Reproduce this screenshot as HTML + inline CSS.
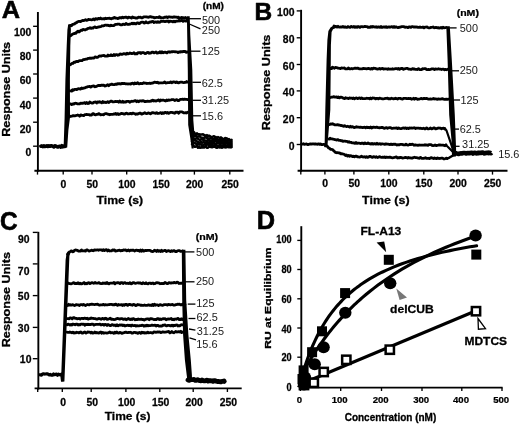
<!DOCTYPE html>
<html><head><meta charset="utf-8"><style>
html,body{margin:0;padding:0;background:#fff;}
svg{display:block;font-family:"Liberation Sans", sans-serif;filter:grayscale(1) blur(0.3px);}
</style></head><body>
<svg width="520" height="426" viewBox="0 0 520 426">
<rect width="520" height="426" fill="#fff"/>
<text transform="translate(1.67,18.3) scale(1.0359,1)" font-size="24.493" font-weight="bold" fill="#000" stroke="#000" stroke-width="0.58" stroke-linejoin="round">A</text>
<line x1="37.9" y1="12" x2="37.9" y2="171.7" stroke="#000" stroke-width="1.9"/>
<line x1="34.4" y1="170.8" x2="243.5" y2="170.8" stroke="#000" stroke-width="1.9"/>
<line x1="33.1" y1="26.3" x2="37.5" y2="26.3" stroke="#000" stroke-width="1.35"/>
<text transform="translate(14,36) scale(1.0400,1)" font-size="10.000" font-weight="bold" fill="#000" stroke="#000" stroke-width="0.25" stroke-linejoin="round">100</text>
<line x1="33.1" y1="50.1" x2="37.5" y2="50.1" stroke="#000" stroke-width="1.35"/>
<text transform="translate(19.77,60.4) scale(1.0400,1)" font-size="10.000" font-weight="bold" fill="#000" stroke="#000" stroke-width="0.25" stroke-linejoin="round">80</text>
<line x1="33.1" y1="74" x2="37.5" y2="74" stroke="#000" stroke-width="1.35"/>
<text transform="translate(19.77,84.2) scale(1.0400,1)" font-size="10.000" font-weight="bold" fill="#000" stroke="#000" stroke-width="0.25" stroke-linejoin="round">60</text>
<line x1="33.1" y1="98.1" x2="37.5" y2="98.1" stroke="#000" stroke-width="1.35"/>
<text transform="translate(19.77,108.5) scale(1.0400,1)" font-size="10.000" font-weight="bold" fill="#000" stroke="#000" stroke-width="0.25" stroke-linejoin="round">40</text>
<line x1="33.1" y1="122.2" x2="37.5" y2="122.2" stroke="#000" stroke-width="1.35"/>
<text transform="translate(19.77,132.5) scale(1.0400,1)" font-size="10.000" font-weight="bold" fill="#000" stroke="#000" stroke-width="0.25" stroke-linejoin="round">20</text>
<line x1="33.1" y1="146.2" x2="37.5" y2="146.2" stroke="#000" stroke-width="1.35"/>
<text transform="translate(25.54,156.1) scale(1.0400,1)" font-size="10.000" font-weight="bold" fill="#000" stroke="#000" stroke-width="0.25" stroke-linejoin="round">0</text>
<line x1="37.5" y1="170.5" x2="37.5" y2="174.6" stroke="#000" stroke-width="1.35"/>
<line x1="63.2" y1="170.5" x2="63.2" y2="174.6" stroke="#000" stroke-width="1.35"/>
<text transform="translate(60.61,187.8) scale(1.0400,1)" font-size="10.000" font-weight="bold" fill="#000" stroke="#000" stroke-width="0.25" stroke-linejoin="round">0</text>
<line x1="92" y1="170.5" x2="92" y2="174.6" stroke="#000" stroke-width="1.35"/>
<text transform="translate(86.58,187.8) scale(1.0400,1)" font-size="10.000" font-weight="bold" fill="#000" stroke="#000" stroke-width="0.25" stroke-linejoin="round">50</text>
<line x1="126.7" y1="170.5" x2="126.7" y2="174.6" stroke="#000" stroke-width="1.35"/>
<text transform="translate(118.21,187.8) scale(1.0400,1)" font-size="10.000" font-weight="bold" fill="#000" stroke="#000" stroke-width="0.25" stroke-linejoin="round">100</text>
<line x1="161" y1="170.5" x2="161" y2="174.6" stroke="#000" stroke-width="1.35"/>
<text transform="translate(152.51,187.8) scale(1.0400,1)" font-size="10.000" font-weight="bold" fill="#000" stroke="#000" stroke-width="0.25" stroke-linejoin="round">150</text>
<line x1="194.4" y1="170.5" x2="194.4" y2="174.6" stroke="#000" stroke-width="1.35"/>
<text transform="translate(186.07,187.8) scale(1.0400,1)" font-size="10.000" font-weight="bold" fill="#000" stroke="#000" stroke-width="0.25" stroke-linejoin="round">200</text>
<line x1="229.8" y1="170.5" x2="229.8" y2="174.6" stroke="#000" stroke-width="1.35"/>
<text transform="translate(221.47,187.8) scale(1.0400,1)" font-size="10.000" font-weight="bold" fill="#000" stroke="#000" stroke-width="0.25" stroke-linejoin="round">250</text>
<text transform="translate(96.48,204.4) scale(1.1252,1)" font-size="10.897" font-weight="bold" fill="#000" stroke="#000" stroke-width="0.27" stroke-linejoin="round">Time (s)</text>
<text transform="translate(10,136.82) rotate(-90) scale(1.1985,1)" font-size="10.483" font-weight="bold" fill="#000" stroke="#000" stroke-width="0.3" stroke-linejoin="round">Response Units</text>
<text transform="translate(202.7,8.9) scale(1.1614,1)" font-size="8.696" font-weight="bold" fill="#000" stroke="#000" stroke-width="0.26" stroke-linejoin="round">(nM)</text>
<polyline points="40.8,146.15 41.8,145.91 42.8,146.61 43.8,145.8 44.8,146.45 45.8,146.21 46.8,145.78 47.8,146.41 48.8,145.75 49.8,146.31 50.8,145.8 51.8,145.83 52.8,146.29 53.8,146.86 54.8,145.87 55.8,146.01 56.8,146.58 57.8,147.03 58.8,146.51 59.8,146.26 60.8,147.07 61.8,145.77 62.8,146.9 63.8,146.11 64.8,145.9 65,146.4" fill="none" stroke="#000" stroke-width="3.6" stroke-linecap="round" stroke-linejoin="round"/>
<polygon points="63.6,147.6 64.6,118 65.4,80 66.7,46 67.4,30 68.2,24.4 70.6,24.8 70.9,30 70.3,46 69.9,80 70,117.5 68.4,130 67.2,147.6" fill="#000" />
<polyline points="69.5,25.56 70.5,25.43 71.5,25.74 72.5,24.32 73.5,24.35 74.5,23.89 75.5,22.99 76.5,22.8 77.5,21.8 78.5,21.46 79.5,21.34 80.5,21.67 81.5,20.99 82.5,20.5 83.5,20.6 84.5,20.18 85.5,19.74 86.5,20.27 87.5,20.05 88.5,19.33 89.5,19.7 90.5,19.55 91.5,19.95 92.5,19.66 93.5,18.96 94.5,19.84 95.5,18.55 96.5,18.89 97.5,19.27 98.5,18.34 99.5,18.73 100.5,18.03 101.5,18.86 102.5,18.95 103.5,18.63 104.5,19 105.5,18.16 106.5,18.65 107.5,18.46 108.5,18.39 109.5,18.16 110.5,18.65 111.5,18.75 112.5,18.04 113.5,18.25 114.5,17.36 115.5,18.21 116.5,18.1 117.5,18.57 118.5,18.31 119.5,17.55 120.5,17.68 121.5,18.06 122.5,17.14 123.5,17.74 124.5,17.31 125.5,17.23 126.5,17.13 127.5,18.11 128.5,17.2 129.5,17.35 130.5,17.53 131.5,18.17 132.5,17.03 133.5,17.52 134.5,17.63 135.5,18.06 136.5,17.94 137.5,17.98 138.5,17.12 139.5,17.28 140.5,17.17 141.5,17.88 142.5,17.95 143.5,16.79 144.5,16.79 145.5,16.84 146.5,16.83 147.5,17.19 148.5,17.34 149.5,16.89 150.5,16.54 151.5,17.13 152.5,17.06 153.5,17.35 154.5,17.9 155.5,17.53 156.5,17.3 157.5,17.45 158.5,17.54 159.5,16.67 160.5,17.87 161.5,17.73 162.5,17.89 163.5,17.8 164.5,17.26 165.5,17.3 166.5,16.91 167.5,17.68 168.5,16.9 169.5,16.93 170.5,17.15 171.5,17.11 172.5,17.39 173.5,17.01 174.5,16.96 175.5,17.2 176.5,17.16 177.5,17.56 178.5,17.12 179.5,18.35 180.5,18.02 181.5,17.4 182.5,17.58 183.5,17.75 184.5,17.81 185.5,17.5 186.5,18.55 187.5,18.79" fill="none" stroke="#000" stroke-width="2.8" stroke-linecap="round" stroke-linejoin="round"/>
<polyline points="70,35.85 71,35.48 72,34.45 73,33.94 74,33.73 75,33.09 76,33.34 77,31.86 78,31.13 79,32.08 80,31.13 81,30.24 82,30.44 83,29.36 84,29.71 85,29.98 86,29.53 87,29.1 88,28.3 89,28.25 90,27.78 91,28.43 92,27.9 93,28.05 94,27.23 95,26.88 96,27.51 97,27.56 98,27.18 99,26.92 100,26.75 101,26.54 102,25.72 103,26.02 104,25.7 105,25.14 106,25.04 107,25.29 108,25.16 109,25.67 110,25.94 111,25.13 112,25.71 113,25.68 114,25.54 115,24.61 116,24.31 117,24.25 118,24.15 119,24.09 120,24.62 121,24.94 122,24.79 123,24.22 124,24.4 125,24.54 126,23.48 127,24.22 128,24.5 129,24.26 130,24.15 131,23.68 132,23.16 133,23.92 134,23.19 135,23.75 136,23.9 137,23 138,22.91 139,23.58 140,23.18 141,22.31 142,22.15 143,22.09 144,23.05 145,22.82 146,21.8 147,22.71 148,22.89 149,22.39 150,21.92 151,22.15 152,21.53 153,21.32 154,22.62 155,22.12 156,21.91 157,22.44 158,21.69 159,22.26 160,22.16 161,21.26 162,21.29 163,21.32 164,21.21 165,21.66 166,21.18 167,21.37 168,20.93 169,21.99 170,21.18 171,21.3 172,21.44 173,21.86 174,21.15 175,21.82 176,21.2 177,21.21 178,21.16 179,20.42 180,20.98 181,20.58 182,20.3 183,21.38 184,20.46 185,20.85 186,21.17 187,20.9 187.5,20.8" fill="none" stroke="#000" stroke-width="2.8" stroke-linecap="round" stroke-linejoin="round"/>
<polyline points="70,64.86 71,64.23 72,63.38 73,63.36 74,62.07 75,62.37 76,61.6 77,61.3 78,61.66 79,60.95 80,60.69 81,60.7 82,60.66 83,59.74 84,59.72 85,59.31 86,59.06 87,59.05 88,58.45 89,58.31 90,57.97 91,58.46 92,57.96 93,58.05 94,57.98 95,56.86 96,57.12 97,57.5 98,57.2 99,56.05 100,55.87 101,56.21 102,55.59 103,55.72 104,55.38 105,56.1 106,56.16 107,56.21 108,55.06 109,55.74 110,55.56 111,54.73 112,55.66 113,55.67 114,54.51 115,55.43 116,54.58 117,54.63 118,55.26 119,54.97 120,53.95 121,54.25 122,54.3 123,53.97 124,53.7 125,53.8 126,54.29 127,53.23 128,53.9 129,53.67 130,53 131,53.36 132,53.7 133,53.47 134,52.77 135,53.98 136,53.67 137,53.89 138,52.64 139,52.83 140,52.48 141,53.47 142,52.73 143,52.49 144,52.87 145,53.52 146,53.35 147,52.53 148,52.34 149,53.38 150,52.86 151,53 152,52.11 153,52.03 154,52.88 155,52.48 156,51.95 157,53.12 158,52.66 159,52.86 160,51.82 161,52.88 162,51.76 163,52.86 164,52.28 165,52.1 166,52.39 167,52.9 168,51.96 169,51.75 170,52.29 171,51.87 172,51.68 173,51.74 174,51.57 175,51.76 176,51.9 177,51.88 178,52.5 179,51.83 180,52.11 181,51.64 182,51.87 183,51.39 184,51.7 185,51.36 186,52.35 187,52.08 187.5,52" fill="none" stroke="#000" stroke-width="2.8" stroke-linecap="round" stroke-linejoin="round"/>
<polyline points="69.7,90.87 70.7,90.89 71.7,91.16 72.7,89.63 73.7,90.26 74.7,89.47 75.7,89.35 76.7,89.63 77.7,88.81 78.7,88.77 79.7,88.82 80.7,89.06 81.7,88.01 82.7,88.53 83.7,88.2 84.7,87.94 85.7,87.45 86.7,87.21 87.7,86.64 88.7,86.59 89.7,86.35 90.7,87.15 91.7,86.35 92.7,86.09 93.7,85.86 94.7,86.79 95.7,86.71 96.7,86.3 97.7,85.63 98.7,85.48 99.7,85.47 100.7,85.62 101.7,85.12 102.7,85.44 103.7,85.1 104.7,85.99 105.7,85.93 106.7,85.25 107.7,84.74 108.7,85.67 109.7,84.67 110.7,84.65 111.7,84.07 112.7,84.52 113.7,84.57 114.7,84.53 115.7,84.03 116.7,84.39 117.7,83.63 118.7,83.92 119.7,83.61 120.7,83.98 121.7,83.41 122.7,83.32 123.7,83.65 124.7,83.48 125.7,83.91 126.7,83.76 127.7,84 128.7,83.81 129.7,83.82 130.7,84.01 131.7,83.3 132.7,83.18 133.7,84.08 134.7,82.88 135.7,83.66 136.7,83.52 137.7,82.66 138.7,83.74 139.7,83.79 140.7,83.39 141.7,83.52 142.7,83.6 143.7,82.63 144.7,83.14 145.7,83.09 146.7,83.52 147.7,83.45 148.7,83.46 149.7,83.09 150.7,83.5 151.7,83.18 152.7,83.17 153.7,82.49 154.7,82.18 155.7,82.3 156.7,82.59 157.7,82.21 158.7,83.2 159.7,82.79 160.7,82.86 161.7,82.84 162.7,82.89 163.7,82.6 164.7,81.9 165.7,82.99 166.7,82.9 167.7,82.54 168.7,82.56 169.7,82.71 170.7,81.86 171.7,82.78 172.7,82.08 173.7,81.81 174.7,82.05 175.7,82.68 176.7,81.92 177.7,82.65 178.7,82.96 179.7,82.26 180.7,82.08 181.7,82.2 182.7,82.46 183.7,82.56 184.7,82.32 185.7,82.34 186.7,81.53 187.5,82.1" fill="none" stroke="#000" stroke-width="2.8" stroke-linecap="round" stroke-linejoin="round"/>
<polyline points="69.7,103.91 70.7,103.97 71.7,104.57 72.7,103.86 73.7,104.15 74.7,103.28 75.7,103.26 76.7,103.46 77.7,103.94 78.7,103.88 79.7,103.77 80.7,103.15 81.7,103.39 82.7,103.23 83.7,103.16 84.7,102.59 85.7,103.6 86.7,102.54 87.7,103.55 88.7,103.41 89.7,102.05 90.7,102.6 91.7,103.04 92.7,103.19 93.7,102.4 94.7,102.08 95.7,101.94 96.7,102.91 97.7,101.81 98.7,102.3 99.7,101.66 100.7,102.17 101.7,102.75 102.7,101.58 103.7,102.52 104.7,102.07 105.7,102.57 106.7,102.29 107.7,101.61 108.7,102.52 109.7,101.92 110.7,101.26 111.7,101.21 112.7,101.87 113.7,101.79 114.7,101.56 115.7,101.31 116.7,101.57 117.7,101.51 118.7,102.22 119.7,101.03 120.7,102.05 121.7,102.16 122.7,101.13 123.7,102.23 124.7,101.91 125.7,102.16 126.7,101.28 127.7,101.37 128.7,101.38 129.7,102.2 130.7,101.6 131.7,101.25 132.7,101.31 133.7,101.06 134.7,100.71 135.7,100.75 136.7,101.75 137.7,100.94 138.7,101.82 139.7,100.83 140.7,100.82 141.7,101.13 142.7,100.64 143.7,100.87 144.7,101.65 145.7,101.51 146.7,101.38 147.7,101.09 148.7,101.46 149.7,101.46 150.7,100.88 151.7,101.08 152.7,100.11 153.7,101.04 154.7,100.61 155.7,101 156.7,100.81 157.7,100.28 158.7,99.91 159.7,101.11 160.7,99.96 161.7,100.41 162.7,100.19 163.7,100.1 164.7,100.68 165.7,100.98 166.7,99.94 167.7,100.47 168.7,99.94 169.7,100.26 170.7,100 171.7,99.65 172.7,99.61 173.7,99.64 174.7,100.59 175.7,99.98 176.7,99.56 177.7,100.49 178.7,100.58 179.7,99.79 180.7,99.32 181.7,99.36 182.7,99.18 183.7,99.5 184.7,99.12 185.7,99.29 186.7,99.29 187.5,99.6" fill="none" stroke="#000" stroke-width="2.8" stroke-linecap="round" stroke-linejoin="round"/>
<polyline points="69.7,116.1 70.7,116.49 71.7,116.25 72.7,115.73 73.7,115.69 74.7,115.79 75.7,115.54 76.7,115.43 77.7,115 78.7,115.25 79.7,116.17 80.7,114.91 81.7,115.33 82.7,115.41 83.7,115.64 84.7,114.63 85.7,114.61 86.7,114.48 87.7,114.59 88.7,114.55 89.7,115.17 90.7,114.97 91.7,114.98 92.7,113.76 93.7,113.75 94.7,114.68 95.7,114.91 96.7,114.3 97.7,114.43 98.7,113.59 99.7,114.12 100.7,114.86 101.7,114.7 102.7,114.72 103.7,114.87 104.7,113.84 105.7,113.63 106.7,113.68 107.7,114.18 108.7,114.39 109.7,114.74 110.7,114.41 111.7,114.29 112.7,114.44 113.7,113.99 114.7,114.11 115.7,113.38 116.7,114.4 117.7,113.62 118.7,114.56 119.7,114.16 120.7,113.67 121.7,113.41 122.7,113.57 123.7,114.09 124.7,114.16 125.7,113.32 126.7,113.25 127.7,113.87 128.7,113.94 129.7,113.65 130.7,113.39 131.7,113.9 132.7,113.04 133.7,113.42 134.7,113.62 135.7,114.29 136.7,113.82 137.7,114.13 138.7,113.53 139.7,113.17 140.7,113.16 141.7,114.13 142.7,113.75 143.7,113.17 144.7,112.74 145.7,113.38 146.7,113.6 147.7,113.22 148.7,112.96 149.7,113.51 150.7,113.84 151.7,112.84 152.7,112.54 153.7,112.94 154.7,113.03 155.7,113.37 156.7,112.67 157.7,113.48 158.7,113.37 159.7,113.01 160.7,112.57 161.7,113.61 162.7,112.67 163.7,113.35 164.7,112.5 165.7,112.46 166.7,113.19 167.7,112.52 168.7,113.41 169.7,112.75 170.7,112.29 171.7,112.31 172.7,112.56 173.7,112.88 174.7,113.25 175.7,112.11 176.7,112.43 177.7,112.15 178.7,113.19 179.7,112 180.7,111.85 181.7,111.83 182.7,112.27 183.7,112.95 184.7,112.91 185.7,112.67 186.7,113.02 187.5,112.3" fill="none" stroke="#000" stroke-width="2.8" stroke-linecap="round" stroke-linejoin="round"/>
<polygon points="186.9,16.3 189.7,16.3 190.3,35 192.3,70 193.3,120 194.2,131 193.6,148.4 191.6,148.4 190.6,140 188.2,125 187.8,70" fill="#000" />
<polyline points="192,132.29 193,131.83 194,132.1 195,133.8 196,133.99 197,133.35 198,134.53 199,134.24 200,134.4 201,134.5 202,134.41 203,134.31 204,134.92 205,135.2 206,136.34 207,135.17 208,136.69 209,135.64 210,136.05 211,136.96 212,137.13 213,136.67 214,136.23 215,137.07 216,137.08 217,138.12 218,137.13 219,137.57 220,138.59 221,137.37 222,138.15 223,138.96 224,139.05 225,138.06 226,138.22 227,138.43 228,139.97 229,139.08 230,140.03 231,140.44 231.6,139.9" fill="none" stroke="#000" stroke-width="2.5" stroke-linecap="round" stroke-linejoin="round"/>
<polyline points="192,133.94 193,134.34 194,135.93 195,135.89 196,135.82 197,137.05 198,136.55 199,136.62 200,136.32 201,137.66 202,138.06 203,137.75 204,138.38 205,137.05 206,137.52 207,138.05 208,138.96 209,139.09 210,138.32 211,138.24 212,138.67 213,138.91 214,139.74 215,138.69 216,139.82 217,139.86 218,140.13 219,140.19 220,140.06 221,139.75 222,139.88 223,140.09 224,140.9 225,139.91 226,140.24 227,141.27 228,140.6 229,140.44 230,140.53 231,141.5 231.6,141.5" fill="none" stroke="#000" stroke-width="2.5" stroke-linecap="round" stroke-linejoin="round"/>
<polyline points="192,136.52 193,138.07 194,138.41 195,139.08 196,138.42 197,138.63 198,138.76 199,139.52 200,139.97 201,139.65 202,139.42 203,139.83 204,140.26 205,140.46 206,140.69 207,140.95 208,140.77 209,140.01 210,141.27 211,140.51 212,141.05 213,140.85 214,141.55 215,140.8 216,140.98 217,141.09 218,141.05 219,142.33 220,141.95 221,141.66 222,141.88 223,142.94 224,142.28 225,141.95 226,142.98 227,142.84 228,143.49 229,142.18 230,142.88 231,143.54 231.6,143.1" fill="none" stroke="#000" stroke-width="2.5" stroke-linecap="round" stroke-linejoin="round"/>
<polyline points="192,139.94 193,140.56 194,139.66 195,140.57 196,140.79 197,141.4 198,142.73 199,142.19 200,142.82 201,142.01 202,142.88 203,142.29 204,142.06 205,142.97 206,143.32 207,142.05 208,142.91 209,143.03 210,142.46 211,142.78 212,142.5 213,142.67 214,142.83 215,143.46 216,143.63 217,142.99 218,142.76 219,143.34 220,143.98 221,143.27 222,143.55 223,143.45 224,144.48 225,144.16 226,143.46 227,143.6 228,144.15 229,144.48 230,144.7 231,143.9 231.6,144.6" fill="none" stroke="#000" stroke-width="2.5" stroke-linecap="round" stroke-linejoin="round"/>
<polyline points="192,141.46 193,142.81 194,142.86 195,143.15 196,143.69 197,145.23 198,144.24 199,144.69 200,144.4 201,144.54 202,145.3 203,145.55 204,144.59 205,144.36 206,145.26 207,144.46 208,144.19 209,145.66 210,144.94 211,145.62 212,145 213,145.81 214,145.17 215,144.74 216,144.55 217,145.45 218,145.64 219,146.11 220,144.84 221,145.74 222,145.38 223,145.63 224,145.1 225,145.37 226,145.79 227,146.48 228,145.22 229,145.87 230,146.42 231,146.72 231.6,146" fill="none" stroke="#000" stroke-width="2.5" stroke-linecap="round" stroke-linejoin="round"/>
<polyline points="192,144.12 193,144.5 194,146.31 195,146.86 196,146.57 197,146.39 198,147.78 199,146.93 200,147.76 201,147.3 202,147.63 203,146.57 204,147.58 205,146.68 206,146.97 207,147.68 208,147.66 209,146.63 210,146.69 211,146.98 212,147.17 213,146.96 214,146.55 215,146.75 216,147.51 217,147.79 218,146.43 219,147.26 220,147.58 221,146.43 222,147.71 223,146.56 224,147.34 225,147.26 226,147.39 227,146.88 228,147.06 229,147.32 230,147.08 231,147.45 231.6,147.2" fill="none" stroke="#000" stroke-width="2.5" stroke-linecap="round" stroke-linejoin="round"/>
<line x1="189" y1="18.7" x2="201" y2="18.7" stroke="#000" stroke-width="1.3"/>
<line x1="189.3" y1="24" x2="200.5" y2="28.9" stroke="#000" stroke-width="1.3"/>
<line x1="189" y1="51.2" x2="200.5" y2="51.2" stroke="#000" stroke-width="1.3"/>
<line x1="192.3" y1="82.3" x2="201" y2="82.3" stroke="#000" stroke-width="1.3"/>
<line x1="192.5" y1="100.3" x2="201" y2="100.3" stroke="#000" stroke-width="1.3"/>
<line x1="192.8" y1="115.8" x2="201" y2="115.8" stroke="#000" stroke-width="1.3"/>
<text transform="translate(201.96,23.94) scale(1.0500,1)" font-size="10.400" font-weight="normal" fill="#1a1a1a">500</text>
<text transform="translate(201.85,34.34) scale(1.0500,1)" font-size="10.400" font-weight="normal" fill="#1a1a1a">250</text>
<text transform="translate(201.58,54.94) scale(1.0500,1)" font-size="10.400" font-weight="normal" fill="#1a1a1a">125</text>
<text transform="translate(201.65,86.84) scale(1.0500,1)" font-size="10.400" font-weight="normal" fill="#1a1a1a">62.5</text>
<text transform="translate(201.76,104.24) scale(1.0500,1)" font-size="10.400" font-weight="normal" fill="#1a1a1a">31.25</text>
<text transform="translate(201.78,119.74) scale(1.0500,1)" font-size="10.400" font-weight="normal" fill="#1a1a1a">15.6</text>
<text transform="translate(254.61,19.6) scale(0.9914,1)" font-size="24.638" font-weight="bold" fill="#000" stroke="#000" stroke-width="0.61" stroke-linejoin="round">B</text>
<line x1="301.1" y1="9.8" x2="301.1" y2="171.7" stroke="#000" stroke-width="1.9"/>
<line x1="297.6" y1="170.8" x2="507.5" y2="170.8" stroke="#000" stroke-width="1.9"/>
<line x1="296.7" y1="10.9" x2="300.6" y2="10.9" stroke="#000" stroke-width="1.35"/>
<text transform="translate(277.1,15.9) scale(1.0400,1)" font-size="10.000" font-weight="bold" fill="#000" stroke="#000" stroke-width="0.25" stroke-linejoin="round">100</text>
<line x1="296.7" y1="37.8" x2="300.6" y2="37.8" stroke="#000" stroke-width="1.35"/>
<text transform="translate(282.87,42.8) scale(1.0400,1)" font-size="10.000" font-weight="bold" fill="#000" stroke="#000" stroke-width="0.25" stroke-linejoin="round">80</text>
<line x1="296.7" y1="64.5" x2="300.6" y2="64.5" stroke="#000" stroke-width="1.35"/>
<text transform="translate(282.87,69.5) scale(1.0400,1)" font-size="10.000" font-weight="bold" fill="#000" stroke="#000" stroke-width="0.25" stroke-linejoin="round">60</text>
<line x1="296.7" y1="90.9" x2="300.6" y2="90.9" stroke="#000" stroke-width="1.35"/>
<text transform="translate(282.87,95.9) scale(1.0400,1)" font-size="10.000" font-weight="bold" fill="#000" stroke="#000" stroke-width="0.25" stroke-linejoin="round">40</text>
<line x1="296.7" y1="117.7" x2="300.6" y2="117.7" stroke="#000" stroke-width="1.35"/>
<text transform="translate(282.87,122.7) scale(1.0400,1)" font-size="10.000" font-weight="bold" fill="#000" stroke="#000" stroke-width="0.25" stroke-linejoin="round">20</text>
<line x1="296.7" y1="144.5" x2="300.6" y2="144.5" stroke="#000" stroke-width="1.35"/>
<text transform="translate(288.64,149.5) scale(1.0400,1)" font-size="10.000" font-weight="bold" fill="#000" stroke="#000" stroke-width="0.25" stroke-linejoin="round">0</text>
<line x1="300.8" y1="170.5" x2="300.8" y2="174.6" stroke="#000" stroke-width="1.35"/>
<line x1="324.9" y1="170.5" x2="324.9" y2="174.6" stroke="#000" stroke-width="1.35"/>
<text transform="translate(322.21,186.8) scale(1.0400,1)" font-size="10.000" font-weight="bold" fill="#000" stroke="#000" stroke-width="0.25" stroke-linejoin="round">0</text>
<line x1="353.9" y1="170.5" x2="353.9" y2="174.6" stroke="#000" stroke-width="1.35"/>
<text transform="translate(348.38,186.8) scale(1.0400,1)" font-size="10.000" font-weight="bold" fill="#000" stroke="#000" stroke-width="0.25" stroke-linejoin="round">50</text>
<line x1="388.8" y1="170.5" x2="388.8" y2="174.6" stroke="#000" stroke-width="1.35"/>
<text transform="translate(380.21,186.8) scale(1.0400,1)" font-size="10.000" font-weight="bold" fill="#000" stroke="#000" stroke-width="0.25" stroke-linejoin="round">100</text>
<line x1="423.8" y1="170.5" x2="423.8" y2="174.6" stroke="#000" stroke-width="1.35"/>
<text transform="translate(415.21,186.8) scale(1.0400,1)" font-size="10.000" font-weight="bold" fill="#000" stroke="#000" stroke-width="0.25" stroke-linejoin="round">150</text>
<line x1="458" y1="170.5" x2="458" y2="174.6" stroke="#000" stroke-width="1.35"/>
<text transform="translate(449.57,186.8) scale(1.0400,1)" font-size="10.000" font-weight="bold" fill="#000" stroke="#000" stroke-width="0.25" stroke-linejoin="round">200</text>
<line x1="492.5" y1="170.5" x2="492.5" y2="174.6" stroke="#000" stroke-width="1.35"/>
<text transform="translate(484.07,186.8) scale(1.0400,1)" font-size="10.000" font-weight="bold" fill="#000" stroke="#000" stroke-width="0.25" stroke-linejoin="round">250</text>
<text transform="translate(362.08,203.9) scale(1.1569,1)" font-size="10.759" font-weight="bold" fill="#000" stroke="#000" stroke-width="0.26" stroke-linejoin="round">Time (s)</text>
<text transform="translate(270.1,130.22) rotate(-90) scale(1.2249,1)" font-size="10.345" font-weight="bold" fill="#000" stroke="#000" stroke-width="0.3" stroke-linejoin="round">Response Units</text>
<text transform="translate(456.67,16) scale(1.2129,1)" font-size="8.696" font-weight="bold" fill="#000" stroke="#000" stroke-width="0.25" stroke-linejoin="round">(nM)</text>
<polyline points="301.5,144.15 302.5,144.14 303.5,143.73 304.5,144.33 305.5,144.21 306.5,143.96 307.5,144.49 308.5,144.51 309.5,144.19 310.5,143.92 311.5,144.22 312.5,143.86 313.5,143.88 314.5,144.19 315.5,143.85 316.5,144.21 317.5,144.28 318.5,143.82 319.5,144.42 320.5,143.87 321.5,144.52 322.5,144.57 323.5,144.31 323.8,144.3" fill="none" stroke="#000" stroke-width="2.8" stroke-linecap="round" stroke-linejoin="round"/>
<polygon points="323.8,143.2 326.5,143.8 327.5,147.3 324.5,147.3" fill="#000" />
<polygon points="324.6,146.5 325.3,110 326.6,60 327.4,40 328.4,31 330.5,27.5 334,25.3 336,25.3 336,28 333,29.2 331.6,32 330.9,45 330.8,60 330.3,110 327.4,146.5" fill="#000" />
<polyline points="334,26.01 335,26.53 336,26.42 337,27.08 338,26.21 339,27.04 340,27.22 341,26.96 342,27.08 343,26.42 344,27.32 345,26.81 346,27.35 347,27.33 348,26.53 349,27.22 350,27.37 351,26.42 352,26.74 353,27.18 354,26.52 355,27.34 356,26.65 357,27.25 358,26.51 359,26.9 360,27.36 361,26.58 362,26.64 363,26.91 364,26.7 365,26.39 366,26.55 367,26.53 368,27.38 369,27.1 370,27.33 371,26.54 372,27.21 373,26.48 374,26.93 375,27.05 376,26.75 377,27.31 378,26.96 379,26.99 380,27.32 381,26.48 382,27.46 383,27.07 384,26.82 385,27.28 386,26.7 387,27.51 388,27.07 389,26.84 390,27.29 391,26.95 392,26.66 393,27.3 394,26.54 395,27.4 396,26.79 397,27.22 398,27.61 399,27.18 400,27.28 401,26.9 402,26.57 403,26.62 404,26.75 405,27.28 406,27.09 407,27.18 408,27.62 409,26.79 410,26.9 411,27.38 412,26.69 413,26.68 414,27.08 415,26.82 416,27.1 417,26.97 418,27.37 419,27.39 420,26.97 421,27.46 422,27.31 423,26.96 424,27.86 425,27.11 426,27.03 427,26.99 428,27.61 429,27.88 430,27.8 431,27.4 432,27.27 433,27.01 434,27.73 435,27.66 436,27.44 437,27.79 438,27.58 439,28.15 440,27.94 441,27.43 442,28.17 443,27.24 444,27.8 445,27.68 446,27.51" fill="none" stroke="#000" stroke-width="2.8" stroke-linecap="round" stroke-linejoin="round"/>
<polyline points="330.5,68.51 331.5,68.64 332.5,67.13 333.5,67.73 334.5,68.24 335.5,67.44 336.5,67.57 337.5,68.09 338.5,68.05 339.5,68.27 340.5,68.53 341.5,67.9 342.5,68.12 343.5,68.18 344.5,67.97 345.5,68.93 346.5,68.82 347.5,68.75 348.5,67.98 349.5,68.9 350.5,68.8 351.5,68.5 352.5,68.81 353.5,68.5 354.5,68.25 355.5,68.13 356.5,68.27 357.5,68.06 358.5,68.4 359.5,68.86 360.5,68.8 361.5,68.97 362.5,68.83 363.5,68.35 364.5,68.67 365.5,68.55 366.5,68.94 367.5,68.65 368.5,68.38 369.5,68.8 370.5,69.16 371.5,68.34 372.5,69.08 373.5,68.13 374.5,68.4 375.5,68.38 376.5,68.95 377.5,69.17 378.5,68.96 379.5,68.51 380.5,69.12 381.5,68.53 382.5,68.44 383.5,69.18 384.5,68.89 385.5,68.97 386.5,68.95 387.5,69.3 388.5,68.75 389.5,69.17 390.5,69.02 391.5,69.21 392.5,68.76 393.5,69.08 394.5,68.92 395.5,68.65 396.5,68.55 397.5,69.01 398.5,68.42 399.5,69.35 400.5,68.52 401.5,68.4 402.5,68.5 403.5,69.41 404.5,68.78 405.5,68.56 406.5,68.45 407.5,68.47 408.5,69.2 409.5,69.15 410.5,69.23 411.5,69.28 412.5,68.55 413.5,69.14 414.5,68.9 415.5,69.41 416.5,69.42 417.5,69.51 418.5,68.61 419.5,69.51 420.5,69.57 421.5,69.61 422.5,68.7 423.5,68.82 424.5,68.72 425.5,68.65 426.5,69.55 427.5,69.53 428.5,69.34 429.5,69.56 430.5,69.36 431.5,68.99 432.5,68.79 433.5,68.8 434.5,69.54 435.5,68.94 436.5,69.07 437.5,69.2 438.5,68.77 439.5,69.04 440.5,69.07 441.5,69.56 442.5,69.19 443.5,69.15 444.5,69.86 445.5,69.37 446.5,69.76 447.5,69.51 448.5,68.88 449,69.4" fill="none" stroke="#000" stroke-width="2.8" stroke-linecap="round" stroke-linejoin="round"/>
<polyline points="330.5,97.5 331.5,97.17 332.5,97.18 333.5,96.59 334.5,97.11 335.5,97.05 336.5,96.83 337.5,97.66 338.5,96.94 339.5,97.86 340.5,97.27 341.5,97.21 342.5,97.56 343.5,98.3 344.5,98.66 345.5,97.66 346.5,98.2 347.5,98.21 348.5,98.56 349.5,97.89 350.5,98.24 351.5,98.09 352.5,98.63 353.5,98.01 354.5,98.77 355.5,98.05 356.5,97.98 357.5,98.53 358.5,98.31 359.5,97.9 360.5,98.48 361.5,97.88 362.5,98.67 363.5,98.58 364.5,98.68 365.5,98.52 366.5,98.23 367.5,98.28 368.5,98.29 369.5,98.84 370.5,97.96 371.5,98.85 372.5,97.91 373.5,98.12 374.5,98.19 375.5,98.9 376.5,98.47 377.5,98.35 378.5,98.91 379.5,98.2 380.5,98.46 381.5,98.55 382.5,98.8 383.5,98.8 384.5,98.69 385.5,98.37 386.5,98.36 387.5,98.17 388.5,98.94 389.5,98.75 390.5,98.84 391.5,98.22 392.5,98.52 393.5,98.9 394.5,98.69 395.5,98.2 396.5,98.58 397.5,99.05 398.5,98.34 399.5,98.3 400.5,98.43 401.5,98.88 402.5,99.04 403.5,98.29 404.5,98.3 405.5,98.4 406.5,98.5 407.5,98.72 408.5,98.33 409.5,98.52 410.5,98.38 411.5,99.25 412.5,98.98 413.5,98.3 414.5,99.26 415.5,98.32 416.5,98.63 417.5,99.3 418.5,99.1 419.5,99.04 420.5,98.72 421.5,98.46 422.5,98.96 423.5,98.38 424.5,98.49 425.5,98.7 426.5,98.32 427.5,98.73 428.5,99.17 429.5,99.07 430.5,98.86 431.5,99.01 432.5,98.83 433.5,98.49 434.5,99 435.5,98.79 436.5,99.17 437.5,99.36 438.5,98.84 439.5,99.01 440.5,99.21 441.5,98.85 442.5,98.65 443.5,99.2 444.5,99.38 445.5,99.27 446.5,99.2 447.5,99.37 448.5,99.19 449.5,99.15 450,99" fill="none" stroke="#000" stroke-width="2.8" stroke-linecap="round" stroke-linejoin="round"/>
<polyline points="329.6,124.55 330.6,123.89 331.6,124.13 332.6,123.71 333.6,124.22 334.6,124.77 335.6,124.85 336.6,124.91 337.6,124.65 338.6,125 339.6,125.19 340.6,125.52 341.6,125.43 342.6,125.86 343.6,126.28 344.6,125.6 345.6,126.26 346.6,126.54 347.6,126.25 348.6,126.51 349.6,127.18 350.6,126.29 351.6,126.99 352.6,126.64 353.6,127.35 354.6,127.55 355.6,127.11 356.6,126.68 357.6,127.22 358.6,127.21 359.6,127.43 360.6,127.23 361.6,127.39 362.6,127.63 363.6,127.31 364.6,127.22 365.6,127.83 366.6,127.05 367.6,127.59 368.6,127.3 369.6,127.73 370.6,127.05 371.6,128.02 372.6,127.36 373.6,127.05 374.6,127.32 375.6,127.48 376.6,127.08 377.6,127.55 378.6,127.58 379.6,127.91 380.6,127.55 381.6,127.48 382.6,127.46 383.6,128.06 384.6,128.3 385.6,127.87 386.6,127.56 387.6,128.22 388.6,127.8 389.6,127.62 390.6,127.56 391.6,128.29 392.6,128.36 393.6,128.19 394.6,128.03 395.6,128.16 396.6,127.81 397.6,128.65 398.6,128 399.6,128.34 400.6,128.55 401.6,128.56 402.6,128.18 403.6,128 404.6,128.28 405.6,127.83 406.6,128.61 407.6,128.09 408.6,128.64 409.6,128.01 410.6,128.13 411.6,128.01 412.6,128.2 413.6,127.95 414.6,127.75 415.6,128.55 416.6,128.07 417.6,128.04 418.6,128.11 419.6,128.31 420.6,128.26 421.6,128.5 422.6,128.53 423.6,128.21 424.6,128.84 425.6,128.76 426.6,127.89 427.6,128.75 428.6,128.84 429.6,128.71 430.6,128.01 431.6,128.78 432.6,128.56 433.6,127.89 434.6,127.89 435.6,128.94 436.6,128.62 437.6,128.18 438.6,128.02 439.6,128.07 440.6,128.18 441.6,128.78 442.6,128.32 443.6,128.11 444.6,128.94 444.8,128.5" fill="none" stroke="#000" stroke-width="2.8" stroke-linecap="round" stroke-linejoin="round"/>
<polyline points="329,139.12 330,138.17 331,138.93 332,138.82 333,139.21 334,139.29 335,139.73 336,139.82 337,140.07 338,139.57 339,140.31 340,140.33 341,140.78 342,140.67 343,141.37 344,141.23 345,141.12 346,141.31 347,141.42 348,142.03 349,141.76 350,142.43 351,142.29 352,142.89 353,142.93 354,143.01 355,143.41 356,142.5 357,143.45 358,143.08 359,143.22 360,143.37 361,143.59 362,143.12 363,143.2 364,143.83 365,142.89 366,143.55 367,143.58 368,142.95 369,143.62 370,143.74 371,144.05 372,143.42 373,144.17 374,143.69 375,143.7 376,144.19 377,143.27 378,144.06 379,143.99 380,143.71 381,144.32 382,143.82 383,143.97 384,144.06 385,144.37 386,143.79 387,144.07 388,144.09 389,144.27 390,144.61 391,144.05 392,144.68 393,144.25 394,144.39 395,144.17 396,144.47 397,145.02 398,144.7 399,144.89 400,144.41 401,144.41 402,144.41 403,144.74 404,144.81 405,144.99 406,144.19 407,144.95 408,145.15 409,144.79 410,144.26 411,144.55 412,144.24 413,144.46 414,145.28 415,144.95 416,145.02 417,145.18 418,145.32 419,145.01 420,145.03 421,145.06 422,145.15 423,145.06 424,145.16 425,144.66 426,145.18 427,144.96 428,145.32 429,144.6 430,144.71 431,144.56 432,145.39 433,145.56 434,145.29 435,144.99 436,145.5 437,145.48 438,145.25 439,144.93 440,144.99 441,145.14 442,145.04 443,145.18 444,145.43 445,145.76 446,144.81" fill="none" stroke="#000" stroke-width="2.8" stroke-linecap="round" stroke-linejoin="round"/>
<polyline points="325.5,145.67 326.5,145.74 327.5,146.47 328.5,147.87 329.5,148.26 330.5,149.28 331.5,149.4 332.5,149.57 333.5,150.62 334.5,151.48 335.5,152.36 336.5,152.75 337.5,152.55 338.5,152.83 339.5,152.84 340.5,153.78 341.5,153.66 342.5,153.94 343.5,154.14 344.5,154.48 345.5,155.49 346.5,155.04 347.5,156.14 348.5,155.35 349.5,156.38 350.5,155.73 351.5,155.78 352.5,156.66 353.5,156.17 354.5,156.74 355.5,156.17 356.5,156.06 357.5,156.88 358.5,156.85 359.5,157.04 360.5,156.94 361.5,156.26 362.5,156.89 363.5,157.01 364.5,156.77 365.5,157.33 366.5,156.61 367.5,157.43 368.5,157.19 369.5,156.45 370.5,156.47 371.5,157.19 372.5,157.39 373.5,156.6 374.5,156.87 375.5,157.34 376.5,156.74 377.5,157.52 378.5,157.13 379.5,156.67 380.5,157.03 381.5,157.27 382.5,157.14 383.5,157.42 384.5,156.85 385.5,157.59 386.5,157.12 387.5,157.45 388.5,157.45 389.5,157.23 390.5,157.22 391.5,157.67 392.5,157.86 393.5,157.7 394.5,157.48 395.5,157.2 396.5,156.96 397.5,157.98 398.5,157.7 399.5,157.85 400.5,157.33 401.5,157.65 402.5,158.08 403.5,157.93 404.5,157.7 405.5,157.4 406.5,157.55 407.5,158.08 408.5,157.53 409.5,157.89 410.5,157.82 411.5,158.17 412.5,158.09 413.5,157.53 414.5,157.24 415.5,157.55 416.5,157.74 417.5,157.95 418.5,158.22 419.5,158.32 420.5,157.41 421.5,158.3 422.5,158.29 423.5,158.37 424.5,158.07 425.5,157.76 426.5,158.42 427.5,158.39 428.5,158.27 429.5,158.55 430.5,157.94 431.5,157.67 432.5,158.21 433.5,158.5 434.5,157.86 435.5,158.49 436.5,158.7 437.5,157.96 438.5,158.39 439.5,158.49 440.5,158.28 441.5,158.04 442.5,158.14 443.5,158.73 444.5,158.81 445.5,158.49 446.5,158.13 447,158.6" fill="none" stroke="#000" stroke-width="2.8" stroke-linecap="round" stroke-linejoin="round"/>
<polyline points="444.8,128.5 446.5,130.5 453.6,151.3" fill="none" stroke="#000" stroke-width="2.2" stroke-linecap="round" stroke-linejoin="round"/>
<polyline points="446.2,145.3 448,147 453,152" fill="none" stroke="#000" stroke-width="2.2" stroke-linecap="round" stroke-linejoin="round"/>
<polyline points="447,158.6 449.5,157.6 453,155.4" fill="none" stroke="#000" stroke-width="2.4" stroke-linecap="round" stroke-linejoin="round"/>
<polygon points="446.3,26.3 449.8,26.3 451.8,60 454.8,115 456.2,152 455.8,156.5 452,156.5 451.5,140 449.2,115 447.6,60" fill="#000" />
<polyline points="454,153.91 455,153.85 456,153.28 457,153.6 458,153.9 459,153.86 460,153.47 461,153.4 462,153.49 463,153.06 464,153.04 465,153.01 466,153.5 467,153.14 468,153.31 469,153.13 470,153.22 471,152.83 472,152.71 473,153.64 474,153 475,152.71 476,153.22 477,153.36 478,152.71 479,153.13 480,152.86 481,153.01 482,152.5 483,152.49 484,153.43 485,153.28 486,152.89 487,152.95 488,152.62 489,153.12 490,152.75 491,153.25 491.3,152.8" fill="none" stroke="#000" stroke-width="4.6" stroke-linecap="butt" stroke-linejoin="round"/>
<line x1="449.5" y1="27.9" x2="456.6" y2="27.9" stroke="#000" stroke-width="1.3"/>
<line x1="451.8" y1="70.8" x2="459" y2="70.8" stroke="#000" stroke-width="1.3"/>
<line x1="453.6" y1="100" x2="460" y2="100" stroke="#000" stroke-width="1.3"/>
<line x1="455" y1="129.1" x2="459" y2="129.1" stroke="#000" stroke-width="1.3"/>
<line x1="455.6" y1="146.3" x2="459.6" y2="146.3" stroke="#000" stroke-width="1.3"/>
<text transform="translate(459.76,31.94) scale(1.0500,1)" font-size="10.400" font-weight="normal" fill="#1a1a1a">500</text>
<text transform="translate(459.65,74.44) scale(1.0500,1)" font-size="10.400" font-weight="normal" fill="#1a1a1a">250</text>
<text transform="translate(460.38,104.04) scale(1.0500,1)" font-size="10.400" font-weight="normal" fill="#1a1a1a">125</text>
<text transform="translate(459.65,132.64) scale(1.0500,1)" font-size="10.400" font-weight="normal" fill="#1a1a1a">62.5</text>
<text transform="translate(462.06,148.44) scale(1.0500,1)" font-size="10.400" font-weight="normal" fill="#1a1a1a">31.25</text>
<text transform="translate(498.18,157.54) scale(1.0500,1)" font-size="10.400" font-weight="normal" fill="#1a1a1a">15.6</text>
<text transform="translate(-0.08,229.6) scale(0.9827,1)" font-size="24.857" font-weight="bold" fill="#000" stroke="#000" stroke-width="0.61" stroke-linejoin="round">C</text>
<line x1="38.35" y1="231.8" x2="38.35" y2="389.6" stroke="#000" stroke-width="1.9"/>
<line x1="34.6" y1="388.4" x2="241.7" y2="388.4" stroke="#000" stroke-width="1.9"/>
<line x1="32.8" y1="232.4" x2="37.7" y2="232.4" stroke="#000" stroke-width="1.35"/>
<text transform="translate(18.07,242.7) scale(1.0400,1)" font-size="10.000" font-weight="bold" fill="#000" stroke="#000" stroke-width="0.25" stroke-linejoin="round">90</text>
<line x1="32.8" y1="263.9" x2="37.7" y2="263.9" stroke="#000" stroke-width="1.35"/>
<text transform="translate(17.87,275.2) scale(1.0400,1)" font-size="10.000" font-weight="bold" fill="#000" stroke="#000" stroke-width="0.25" stroke-linejoin="round">70</text>
<line x1="32.8" y1="295.6" x2="37.7" y2="295.6" stroke="#000" stroke-width="1.35"/>
<text transform="translate(17.87,300.2) scale(1.0400,1)" font-size="10.000" font-weight="bold" fill="#000" stroke="#000" stroke-width="0.25" stroke-linejoin="round">50</text>
<line x1="32.8" y1="327.4" x2="37.7" y2="327.4" stroke="#000" stroke-width="1.35"/>
<text transform="translate(17.87,332.3) scale(1.0400,1)" font-size="10.000" font-weight="bold" fill="#000" stroke="#000" stroke-width="0.25" stroke-linejoin="round">30</text>
<line x1="32.8" y1="358.7" x2="37.7" y2="358.7" stroke="#000" stroke-width="1.35"/>
<text transform="translate(19.87,362.5) scale(1.0400,1)" font-size="10.000" font-weight="bold" fill="#000" stroke="#000" stroke-width="0.25" stroke-linejoin="round">10</text>
<line x1="37.7" y1="388" x2="37.7" y2="392" stroke="#000" stroke-width="1.35"/>
<line x1="62.3" y1="388" x2="62.3" y2="392" stroke="#000" stroke-width="1.35"/>
<text transform="translate(60.31,405.8) scale(1.0400,1)" font-size="10.000" font-weight="bold" fill="#000" stroke="#000" stroke-width="0.25" stroke-linejoin="round">0</text>
<line x1="91.2" y1="388" x2="91.2" y2="392" stroke="#000" stroke-width="1.35"/>
<text transform="translate(86.38,405.8) scale(1.0400,1)" font-size="10.000" font-weight="bold" fill="#000" stroke="#000" stroke-width="0.25" stroke-linejoin="round">50</text>
<line x1="125.9" y1="388" x2="125.9" y2="392" stroke="#000" stroke-width="1.35"/>
<text transform="translate(118.01,405.8) scale(1.0400,1)" font-size="10.000" font-weight="bold" fill="#000" stroke="#000" stroke-width="0.25" stroke-linejoin="round">100</text>
<line x1="159.8" y1="388" x2="159.8" y2="392" stroke="#000" stroke-width="1.35"/>
<text transform="translate(151.91,405.8) scale(1.0400,1)" font-size="10.000" font-weight="bold" fill="#000" stroke="#000" stroke-width="0.25" stroke-linejoin="round">150</text>
<line x1="193.2" y1="388" x2="193.2" y2="392" stroke="#000" stroke-width="1.35"/>
<text transform="translate(185.47,405.8) scale(1.0400,1)" font-size="10.000" font-weight="bold" fill="#000" stroke="#000" stroke-width="0.25" stroke-linejoin="round">200</text>
<line x1="227.4" y1="388" x2="227.4" y2="392" stroke="#000" stroke-width="1.35"/>
<text transform="translate(219.67,405.8) scale(1.0400,1)" font-size="10.000" font-weight="bold" fill="#000" stroke="#000" stroke-width="0.25" stroke-linejoin="round">250</text>
<text transform="translate(104.68,420.1) scale(1.1319,1)" font-size="10.621" font-weight="bold" fill="#000" stroke="#000" stroke-width="0.27" stroke-linejoin="round">Time (s)</text>
<text transform="translate(9.8,347.22) rotate(-90) scale(1.2197,1)" font-size="10.345" font-weight="bold" fill="#000" stroke="#000" stroke-width="0.3" stroke-linejoin="round">Response Units</text>
<text transform="translate(195.67,239.8) scale(1.1849,1)" font-size="8.986" font-weight="bold" fill="#000" stroke="#000" stroke-width="0.25" stroke-linejoin="round">(nM)</text>
<polyline points="39.5,374.77 40.5,374.86 41.5,375.07 42.5,374.08 43.5,373.79 44.5,374.03 45.5,374.01 46.5,373.88 47.5,373.85 48.5,374.57 49.5,375.01 50.5,374.45 51.5,375.14 52.5,375.1 53.5,373.92 54.5,374.68 55.5,374.41 56.5,374.03 57.5,375.21 58.5,374.24 59.5,374.68 60.5,374.8" fill="none" stroke="#000" stroke-width="3.2" stroke-linecap="round" stroke-linejoin="round"/>
<polygon points="60,373 63.2,372 63.6,381.6 61,381.6" fill="#000" />
<polygon points="61,381.6 64.4,381.6 69.4,256 70.5,252.5 68,251.2 66.4,254.5 65.6,260" fill="#000" />
<polyline points="67.5,254.14 68.5,252.98 69.5,251.83 70.5,251.43 71.5,250.82 72.5,251.75 73.5,251.59 74.5,250.31 75.5,249.95 76.5,250.24 77.5,250.36 78.5,251.12 79.5,251.11 80.5,251.01 81.5,249.89 82.5,250.91 83.5,250.79 84.5,250.69 85.5,251.15 86.5,249.84 87.5,249.95 88.5,250.79 89.5,251.04 90.5,250.66 91.5,250.12 92.5,250.52 93.5,250.74 94.5,249.81 95.5,250.11 96.5,250 97.5,249.8 98.5,250.29 99.5,249.84 100.5,249.94 101.5,249.81 102.5,250.57 103.5,249.64 104.5,250.64 105.5,249.91 106.5,249.7 107.5,250.96 108.5,249.97 109.5,250.98 110.5,250.89 111.5,250.93 112.5,249.89 113.5,250.33 114.5,249.84 115.5,251.02 116.5,250.9 117.5,250.61 118.5,250.37 119.5,250.22 120.5,250.91 121.5,250.43 122.5,250.65 123.5,249.98 124.5,250.09 125.5,249.87 126.5,250.8 127.5,250.58 128.5,250.02 129.5,251.04 130.5,250.2 131.5,250.41 132.5,250.06 133.5,250.23 134.5,251.03 135.5,250.33 136.5,250.11 137.5,250.57 138.5,250.33 139.5,251.16 140.5,250.07 141.5,251.29 142.5,250.02 143.5,251.21 144.5,250.91 145.5,250.29 146.5,250.67 147.5,250.42 148.5,250.4 149.5,250.34 150.5,250.58 151.5,251.47 152.5,251.5 153.5,251.41 154.5,250.27 155.5,250.56 156.5,251.42 157.5,250.27 158.5,251.22 159.5,250.63 160.5,251.6 161.5,250.27 162.5,251.4 163.5,250.76 164.5,250.5 165.5,250.32 166.5,251.5 167.5,251.08 168.5,250.62 169.5,250.99 170.5,251.67 171.5,250.72 172.5,251.23 173.5,250.64 174.5,250.71 175.5,251.56 176.5,251.49 177.5,250.79 178.5,250.64 179.5,250.67 180.5,251.41 181.5,251.27 182.5,250.98 183,251.3" fill="none" stroke="#000" stroke-width="2.8" stroke-linecap="round" stroke-linejoin="round"/>
<polyline points="68,282.99 69,283.55 70,283.67 71,283.81 72,283.48 73,282.94 74,282.74 75,283.66 76,283.2 77,283.63 78,282.68 79,283.73 80,283.06 81,283.76 82,283.78 83,283.25 84,282.57 85,283.81 86,283.2 87,283.74 88,282.89 89,282.76 90,283.66 91,283 92,282.7 93,282.99 94,283.29 95,282.45 96,283.17 97,283.05 98,283.14 99,282.58 100,283.4 101,283.55 102,283.62 103,282.86 104,283.42 105,282.96 106,283.48 107,282.52 108,283.66 109,283.78 110,283.14 111,283.17 112,283.2 113,283.22 114,282.5 115,283.83 116,282.79 117,282.74 118,282.63 119,282.85 120,283.64 121,282.55 122,282.65 123,283.49 124,282.79 125,282.55 126,283.37 127,283.34 128,283.27 129,283.53 130,282.69 131,283.77 132,283.56 133,282.63 134,282.74 135,283.27 136,283.28 137,282.98 138,282.76 139,283.16 140,282.79 141,283.42 142,283.78 143,282.77 144,283.36 145,283.59 146,282.76 147,283.68 148,283.82 149,283.04 150,283.08 151,283.65 152,283.2 153,283.01 154,283.76 155,283.52 156,282.89 157,282.74 158,282.86 159,282.99 160,283.75 161,283.49 162,283.63 163,283.48 164,283.51 165,282.39 166,283.03 167,283.63 168,283.59 169,282.62 170,282.85 171,283.13 172,282.75 173,282.97 174,282.31 175,282.81 176,282.9 177,282.21 178,282.36 179,283.51 180,283.23 181,283.45 182,283.01 183,283.24 184,283.34" fill="none" stroke="#000" stroke-width="2.8" stroke-linecap="round" stroke-linejoin="round"/>
<polyline points="67.5,305.54 68.5,304.34 69.5,305.18 70.5,304.64 71.5,305.21 72.5,304.64 73.5,305 74.5,305.53 75.5,305.1 76.5,304.57 77.5,304.94 78.5,304.81 79.5,305.52 80.5,304.58 81.5,304.6 82.5,305.07 83.5,304.32 84.5,304.98 85.5,305.47 86.5,304.84 87.5,304.49 88.5,304.76 89.5,304.84 90.5,304.3 91.5,304.25 92.5,304.25 93.5,304.47 94.5,304.62 95.5,304.45 96.5,304.37 97.5,304.15 98.5,304.78 99.5,305.18 100.5,304.86 101.5,304.81 102.5,304.93 103.5,304.31 104.5,305.03 105.5,304.69 106.5,304.82 107.5,304.91 108.5,304.72 109.5,304.51 110.5,304.42 111.5,304.4 112.5,304.81 113.5,304.64 114.5,304.93 115.5,304.13 116.5,304.62 117.5,305.34 118.5,304.47 119.5,304.93 120.5,304.84 121.5,304.56 122.5,305.55 123.5,304.59 124.5,305.26 125.5,304.41 126.5,304.29 127.5,305.43 128.5,304.83 129.5,304.31 130.5,304.77 131.5,304.85 132.5,305.27 133.5,304.4 134.5,304.57 135.5,305.61 136.5,305.31 137.5,304.5 138.5,304.76 139.5,304.79 140.5,305.24 141.5,305.15 142.5,305.47 143.5,305.42 144.5,304.98 145.5,305.29 146.5,305.28 147.5,305.3 148.5,304.89 149.5,305.31 150.5,305.2 151.5,305.48 152.5,304.37 153.5,305.4 154.5,304.18 155.5,305.23 156.5,304.97 157.5,304.84 158.5,305.48 159.5,304.93 160.5,304.7 161.5,305.21 162.5,305.32 163.5,304.94 164.5,304.61 165.5,304.71 166.5,304.71 167.5,305.07 168.5,304.46 169.5,304.58 170.5,304.81 171.5,304.56 172.5,304.46 173.5,305.1 174.5,305.18 175.5,304.68 176.5,304.6 177.5,304.22 178.5,304.38 179.5,304.15 180.5,304.75 181.5,304.75 182.5,304.05 183.5,305.2 184.5,304.36 185,304.6" fill="none" stroke="#000" stroke-width="2.8" stroke-linecap="round" stroke-linejoin="round"/>
<polyline points="67.2,318.68 68.2,318.69 69.2,318.87 70.2,317.82 71.2,318.15 72.2,318.84 73.2,317.59 74.2,317.65 75.2,318.39 76.2,318.31 77.2,318.91 78.2,318.72 79.2,318.4 80.2,319.06 81.2,318.4 82.2,318.41 83.2,318.65 84.2,318.25 85.2,318.22 86.2,318.56 87.2,318.24 88.2,319.08 89.2,318.72 90.2,318.52 91.2,317.93 92.2,318.33 93.2,318.38 94.2,318.62 95.2,318.65 96.2,319.09 97.2,319.22 98.2,318.56 99.2,318.51 100.2,318.78 101.2,319.32 102.2,318.42 103.2,318.71 104.2,319.13 105.2,318.24 106.2,318.47 107.2,319.41 108.2,319.22 109.2,318.8 110.2,318.26 111.2,319.38 112.2,319.11 113.2,319.31 114.2,319.57 115.2,319.45 116.2,318.81 117.2,318.46 118.2,318.67 119.2,319 120.2,319.01 121.2,318.59 122.2,318.6 123.2,319.25 124.2,319.23 125.2,318.9 126.2,319.82 127.2,319.34 128.2,318.52 129.2,319.06 130.2,319.61 131.2,318.95 132.2,319.51 133.2,318.57 134.2,319.01 135.2,319.78 136.2,319.44 137.2,319.58 138.2,318.94 139.2,319.38 140.2,319.47 141.2,319.06 142.2,319.59 143.2,319.41 144.2,320.06 145.2,319.46 146.2,319.22 147.2,318.8 148.2,318.84 149.2,319.68 150.2,318.75 151.2,318.74 152.2,318.83 153.2,319.31 154.2,319.72 155.2,319.42 156.2,319.68 157.2,318.63 158.2,318.55 159.2,319.6 160.2,318.96 161.2,319.5 162.2,318.99 163.2,318.72 164.2,318.85 165.2,318.6 166.2,319.72 167.2,319.26 168.2,318.93 169.2,319.06 170.2,318.96 171.2,318.49 172.2,319.65 173.2,319.21 174.2,319.73 175.2,318.99 176.2,319.23 177.2,318.7 178.2,318.41 179.2,319.64 180.2,319.52 181.2,318.76 182.2,319.57 183,319" fill="none" stroke="#000" stroke-width="2.8" stroke-linecap="round" stroke-linejoin="round"/>
<polyline points="67,324.74 68,324.04 69,324.47 70,324.99 71,324.35 72,325.01 73,324.03 74,324.25 75,324.73 76,324.05 77,324.18 78,324.99 79,324.46 80,324.91 81,324.15 82,324.07 83,324.34 84,324.12 85,325.23 86,324.29 87,324.69 88,324.08 89,324.68 90,324.49 91,324.53 92,324.07 93,324.17 94,325.17 95,324.52 96,324.38 97,324.32 98,324.47 99,324.42 100,324.15 101,325.05 102,324.63 103,324.39 104,325.19 105,324.35 106,324.63 107,325.44 108,324.48 109,324.95 110,325.52 111,325.5 112,324.62 113,324.92 114,325.46 115,325 116,325.84 117,324.82 118,325.88 119,325.28 120,324.92 121,325.26 122,324.83 123,325.66 124,325.07 125,325.98 126,325.57 127,325.29 128,325.14 129,325.68 130,325.15 131,326.1 132,325.07 133,325.64 134,325.71 135,325.35 136,326.08 137,325.56 138,325.97 139,325.87 140,325.54 141,325.64 142,325.2 143,325.32 144,326.25 145,325.5 146,325.97 147,325.19 148,325.81 149,325.52 150,325.71 151,325.41 152,325.08 153,325.41 154,325.29 155,325.14 156,325.95 157,325.34 158,325.5 159,326.2 160,326 161,326.14 162,326.1 163,325.07 164,325.26 165,324.91 166,325.81 167,325.78 168,325.33 169,325.41 170,325.74 171,325.79 172,325.15 173,325.98 174,325.28 175,325.65 176,325.02 177,324.92 178,326.02 179,325.76 180,325.73 181,324.78 182,324.77 183,324.93" fill="none" stroke="#000" stroke-width="2.8" stroke-linecap="round" stroke-linejoin="round"/>
<polyline points="66.8,332.18 67.8,332.32 68.8,332.43 69.8,331.95 70.8,332.34 71.8,332.79 72.8,332.15 73.8,333.08 74.8,332.7 75.8,332.9 76.8,332.26 77.8,332.51 78.8,332.86 79.8,332.39 80.8,331.9 81.8,333.07 82.8,332.99 83.8,332.3 84.8,331.96 85.8,333.1 86.8,332.75 87.8,331.97 88.8,332.24 89.8,332.06 90.8,333.01 91.8,332.19 92.8,333.18 93.8,332.95 94.8,332.02 95.8,332.87 96.8,332.45 97.8,332.95 98.8,333.06 99.8,332.29 100.8,332.03 101.8,333.23 102.8,332.51 103.8,333.22 104.8,332.89 105.8,332.96 106.8,333.1 107.8,332.82 108.8,332.58 109.8,332.03 110.8,332.93 111.8,332.56 112.8,332.68 113.8,333.27 114.8,332.15 115.8,333.05 116.8,332.05 117.8,332.97 118.8,333.12 119.8,332.36 120.8,332.77 121.8,333.37 122.8,332.91 123.8,332.78 124.8,332.37 125.8,332.11 126.8,332.53 127.8,332.62 128.8,332.33 129.8,332.48 130.8,332.25 131.8,333.05 132.8,333 133.8,332.4 134.8,332.41 135.8,332.8 136.8,332.71 137.8,333.4 138.8,332.59 139.8,332.52 140.8,333.32 141.8,332.26 142.8,332.83 143.8,332.49 144.8,333.14 145.8,332.75 146.8,333.02 147.8,332.17 148.8,332.85 149.8,332.73 150.8,332.52 151.8,332.93 152.8,333 153.8,331.97 154.8,332.2 155.8,332.27 156.8,332.04 157.8,331.81 158.8,332.1 159.8,331.96 160.8,332.65 161.8,332.27 162.8,331.78 163.8,332.06 164.8,332.24 165.8,332.07 166.8,331.77 167.8,331.62 168.8,331.51 169.8,332.87 170.8,332.51 171.8,331.55 172.8,332.42 173.8,332.76 174.8,332.16 175.8,331.5 176.8,332.01 177.8,331.92 178.8,331.55 179.8,332.03 180.8,331.26 181.8,332.51 182.8,332.11 183,331.9" fill="none" stroke="#000" stroke-width="2.8" stroke-linecap="round" stroke-linejoin="round"/>
<polygon points="181.8,249.8 185.4,249.8 186.2,300 188.4,335 190.8,360 191.9,375 192,381.4 187.6,381.4 186.7,375 184.9,360 183.1,335 182.2,300" fill="#000" />
<polyline points="188,379.95 189,380.36 190,380.05 191,379.6 192,379.63 193,379.53 194,379.43 195,380.36 196,380.47 197,379.86 198,379.76 199,380.33 200,380.61 201,380.77 202,379.92 203,380.72 204,380.84 205,380.79 206,380.35 207,380.24 208,381.07 209,380.52 210,380.64 211,380.92 212,380.76 213,381.38 214,380.73 215,380.55 216,381.21 217,381.32 218,381.58 219,381.48 220,381.75 221,381.83 222,381.32 223,381.36 224,380.98 224.3,381.4" fill="none" stroke="#000" stroke-width="4.8" stroke-linecap="round" stroke-linejoin="round"/>
<line x1="183" y1="251.9" x2="194.4" y2="251.9" stroke="#000" stroke-width="1.3"/>
<line x1="185" y1="281.8" x2="194.5" y2="281.8" stroke="#000" stroke-width="1.3"/>
<line x1="187.8" y1="304.1" x2="195.4" y2="304.1" stroke="#000" stroke-width="1.3"/>
<line x1="188.5" y1="318.5" x2="195.4" y2="318.5" stroke="#000" stroke-width="1.3"/>
<line x1="189" y1="329" x2="195.4" y2="330.2" stroke="#000" stroke-width="1.3"/>
<line x1="189.5" y1="337.9" x2="196" y2="339.8" stroke="#000" stroke-width="1.3"/>
<text transform="translate(196.06,255.84) scale(1.0500,1)" font-size="10.400" font-weight="normal" fill="#1a1a1a">500</text>
<text transform="translate(195.95,284.94) scale(1.0500,1)" font-size="10.400" font-weight="normal" fill="#1a1a1a">250</text>
<text transform="translate(196.28,307.14) scale(1.0500,1)" font-size="10.400" font-weight="normal" fill="#1a1a1a">125</text>
<text transform="translate(196.55,321.44) scale(1.0500,1)" font-size="10.400" font-weight="normal" fill="#1a1a1a">62.5</text>
<text transform="translate(196.66,334.94) scale(1.0500,1)" font-size="10.400" font-weight="normal" fill="#1a1a1a">31.25</text>
<text transform="translate(196.28,347.74) scale(1.0500,1)" font-size="10.400" font-weight="normal" fill="#1a1a1a">15.6</text>
<text transform="translate(256.65,229.2) scale(1.0059,1)" font-size="25.217" font-weight="bold" fill="#000" stroke="#000" stroke-width="0.6" stroke-linejoin="round">D</text>
<line x1="301.3" y1="226.2" x2="301.3" y2="388.2" stroke="#000" stroke-width="1.9"/>
<line x1="300" y1="387.6" x2="502.6" y2="387.6" stroke="#000" stroke-width="1.9"/>
<line x1="297.3" y1="240.4" x2="301" y2="240.4" stroke="#000" stroke-width="1.35"/>
<text transform="translate(276.35,242.7) scale(0.9200,1)" font-size="10.000" font-weight="bold" fill="#000" stroke="#000" stroke-width="0.25" stroke-linejoin="round">100</text>
<line x1="297.3" y1="269.5" x2="301" y2="269.5" stroke="#000" stroke-width="1.35"/>
<text transform="translate(281.46,273.2) scale(0.9200,1)" font-size="10.000" font-weight="bold" fill="#000" stroke="#000" stroke-width="0.25" stroke-linejoin="round">80</text>
<line x1="297.3" y1="298.8" x2="301" y2="298.8" stroke="#000" stroke-width="1.35"/>
<text transform="translate(281.46,303.3) scale(0.9200,1)" font-size="10.000" font-weight="bold" fill="#000" stroke="#000" stroke-width="0.25" stroke-linejoin="round">60</text>
<line x1="297.3" y1="328" x2="301" y2="328" stroke="#000" stroke-width="1.35"/>
<text transform="translate(281.46,332.7) scale(0.9200,1)" font-size="10.000" font-weight="bold" fill="#000" stroke="#000" stroke-width="0.25" stroke-linejoin="round">40</text>
<line x1="297.3" y1="357.2" x2="301" y2="357.2" stroke="#000" stroke-width="1.35"/>
<text transform="translate(281.46,361.2) scale(0.9200,1)" font-size="10.000" font-weight="bold" fill="#000" stroke="#000" stroke-width="0.25" stroke-linejoin="round">20</text>
<line x1="297.3" y1="386.4" x2="301" y2="386.4" stroke="#000" stroke-width="1.35"/>
<text transform="translate(286.56,390.5) scale(0.9200,1)" font-size="10.000" font-weight="bold" fill="#000" stroke="#000" stroke-width="0.25" stroke-linejoin="round">0</text>
<line x1="300.4" y1="387.4" x2="300.4" y2="391" stroke="#000" stroke-width="1.35"/>
<text transform="translate(296.83,403.03) scale(0.9800,1)" font-size="9.800" font-weight="bold" fill="#000" stroke="#000" stroke-width="0.25" stroke-linejoin="round">0</text>
<line x1="340.7" y1="387.4" x2="340.7" y2="391" stroke="#000" stroke-width="1.35"/>
<text transform="translate(331.68,403.03) scale(0.9800,1)" font-size="9.800" font-weight="bold" fill="#000" stroke="#000" stroke-width="0.25" stroke-linejoin="round">100</text>
<line x1="381.5" y1="387.4" x2="381.5" y2="391" stroke="#000" stroke-width="1.35"/>
<text transform="translate(372.63,403.03) scale(0.9800,1)" font-size="9.800" font-weight="bold" fill="#000" stroke="#000" stroke-width="0.25" stroke-linejoin="round">200</text>
<line x1="422" y1="387.4" x2="422" y2="391" stroke="#000" stroke-width="1.35"/>
<text transform="translate(413.18,403.03) scale(0.9800,1)" font-size="9.800" font-weight="bold" fill="#000" stroke="#000" stroke-width="0.25" stroke-linejoin="round">300</text>
<line x1="461.8" y1="387.4" x2="461.8" y2="391" stroke="#000" stroke-width="1.35"/>
<text transform="translate(453.02,403.03) scale(0.9800,1)" font-size="9.800" font-weight="bold" fill="#000" stroke="#000" stroke-width="0.25" stroke-linejoin="round">400</text>
<line x1="502" y1="387.4" x2="502" y2="391" stroke="#000" stroke-width="1.35"/>
<text transform="translate(493.15,403.03) scale(0.9800,1)" font-size="9.800" font-weight="bold" fill="#000" stroke="#000" stroke-width="0.25" stroke-linejoin="round">500</text>
<text transform="translate(344.7,421) scale(0.9062,1)" font-size="11.034" font-weight="bold" fill="#000" stroke="#000" stroke-width="0.33" stroke-linejoin="round">Concentration (nM)</text>
<text transform="translate(270.5,348.79) rotate(-90) scale(1.2338,1)" font-size="9.793" font-weight="bold" fill="#000" stroke="#000" stroke-width="0.3" stroke-linejoin="round">RU at Equilibrium</text>
<polyline points="302,375.96 303.5,370.93 305,366.2 306.5,361.75 308,357.54 309.5,353.55 311,349.78 312.5,346.2 314,342.79 315.5,339.56 317,336.47 318.5,333.53 320,330.73 321.5,328.05 323,325.48 324.5,323.02 326,320.67 327.5,318.41 329,316.24 330.5,314.16 332,312.16 333.5,310.23 335,308.37 336.5,306.59 338,304.86 339.5,303.2 341,301.59 342.5,300.04 344,298.53 345.5,297.08 347,295.68 348.5,294.32 350,293 351.5,291.72 353,290.48 354.5,289.28 356,288.11 357.5,286.98 359,285.88 360.5,284.81 362,283.77 366,281.13 370,278.68 374,276.39 378,274.24 382,272.23 386,270.34 390,268.57 394,266.89 398,265.31 402,263.81 406,262.39 410,261.05 414,259.77 418,258.55 422,257.39 426,256.29 430,255.23 434,254.23 438,253.26 442,252.34 446,251.46 450,250.61 454,249.79 458,249.01 462,248.26 466,247.53 470,246.84 474,246.17 476.6,245.74" fill="none" stroke="#000" stroke-width="3.1" stroke-linecap="round" stroke-linejoin="round"/>
<polyline points="302,374.06 303.5,371.32 305,368.63 306.5,366.01 308,363.44 309.5,360.93 311,358.47 312.5,356.07 314,353.71 315.5,351.41 317,349.15 318.5,346.94 320,344.77 321.5,342.65 323,340.57 324.5,338.53 326,336.52 327.5,334.56 329,332.64 330.5,330.75 332,328.89 333.5,327.07 335,325.29 336.5,323.53 338,321.81 339.5,320.12 341,318.46 342.5,316.83 344,315.22 345.5,313.65 347,312.1 348.5,310.57 350,309.08 351.5,307.6 353,306.15 354.5,304.73 356,303.33 357.5,301.95 359,300.59 360.5,299.26 362,297.94 366,294.54 370,291.27 374,288.13 378,285.11 382,282.21 386,279.41 390,276.72 394,274.13 398,271.62 402,269.2 406,266.87 410,264.61 414,262.43 418,260.32 422,258.27 426,256.29 430,254.38 434,252.52 438,250.71 442,248.96 446,247.26 450,245.61 454,244.01 458,242.45 462,240.93 466,239.45 470,238.02 474,236.62 475,236.28" fill="none" stroke="#000" stroke-width="3.1" stroke-linecap="round" stroke-linejoin="round"/>
<line x1="310" y1="380.3" x2="476" y2="310.7" stroke="#000" stroke-width="3.1"/>
<rect x="471.85" y="307.05" width="8.3" height="8.3" fill="#fff" stroke="#000" stroke-width="2.5"/>
<rect x="385.65" y="345.55" width="8.3" height="8.3" fill="#fff" stroke="#000" stroke-width="2.5"/>
<rect x="342.15" y="355.65" width="8.3" height="8.3" fill="#fff" stroke="#000" stroke-width="2.5"/>
<rect x="319.55" y="367.85" width="8.3" height="8.3" fill="#fff" stroke="#000" stroke-width="2.5"/>
<rect x="309.65" y="378.65" width="8.3" height="8.3" fill="#fff" stroke="#000" stroke-width="2.5"/>
<rect x="299.85" y="380.85" width="8.3" height="8.3" fill="#fff" stroke="#000" stroke-width="2.5"/>
<rect x="471.3" y="249.6" width="10" height="10" fill="#000"/>
<rect x="383.8" y="254.8" width="10" height="10" fill="#000"/>
<rect x="340.1" y="288.1" width="10" height="10" fill="#000"/>
<rect x="317" y="326.3" width="10" height="10" fill="#000"/>
<rect x="307.1" y="347.2" width="10" height="10" fill="#000"/>
<rect x="298.6" y="365.4" width="10" height="10" fill="#000"/>
<rect x="297.5" y="374" width="10" height="10" fill="#000"/>
<ellipse cx="475.6" cy="235.6" rx="6.2" ry="6" fill="#000"/>
<ellipse cx="390.2" cy="283.2" rx="6.2" ry="6" fill="#000"/>
<ellipse cx="345.3" cy="312.8" rx="6.2" ry="6" fill="#000"/>
<ellipse cx="323.6" cy="347.3" rx="6.2" ry="6" fill="#000"/>
<ellipse cx="314.7" cy="364.2" rx="6.2" ry="6" fill="#000"/>
<ellipse cx="305" cy="377.5" rx="6.2" ry="6" fill="#000"/>
<ellipse cx="304" cy="384.5" rx="6.2" ry="6" fill="#000"/>
<polygon points="376.6,242.4 384.2,241.6 386.2,252.3" fill="#000" />
<polygon points="396.3,288.5 407,297.5 399.6,300" fill="#777" />
<polygon points="478,318.5 485.5,328.6 478.4,329.2" fill="#fff" stroke="#000" stroke-width="1.3"/>
<text transform="translate(360.52,234.8) scale(1.0402,1)" font-size="11.571" font-weight="bold" fill="#000" stroke="#000" stroke-width="0.29" stroke-linejoin="round">FL-A13</text>
<text transform="translate(390.12,313.3) scale(1.1406,1)" font-size="10.621" font-weight="bold" fill="#000" stroke="#000" stroke-width="0.26" stroke-linejoin="round">delCUB</text>
<text transform="translate(464.52,345.3) scale(1.0485,1)" font-size="11.429" font-weight="bold" fill="#000" stroke="#000" stroke-width="0.29" stroke-linejoin="round">MDTCS</text>
</svg></body></html>
